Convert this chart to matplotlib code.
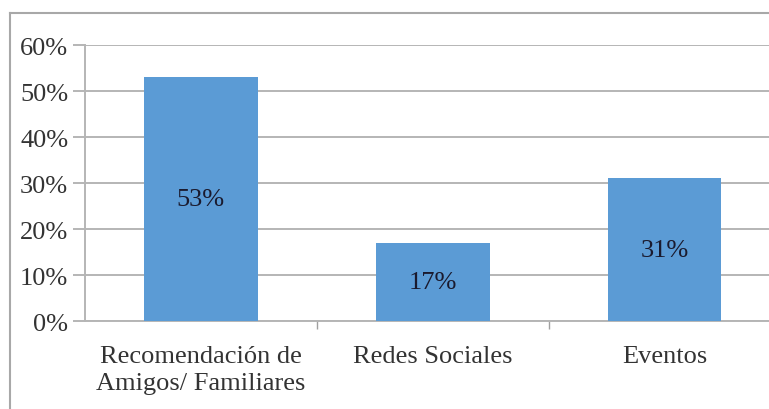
import matplotlib.pyplot as plt
from matplotlib.lines import Line2D
from matplotlib.ticker import FixedLocator, PercentFormatter

# survey results: how people found out about us
categorias = ['Recomendación de\nAmigos/ Familiares', 'Redes Sociales', 'Eventos']
porcentajes = [53, 17, 31]
etiquetas = ['53%', '17%', '31%']
y_ticks = [0, 10, 20, 30, 40, 50, 60]

plt.rcParams['font.family'] = 'serif'
plt.rcParams['font.serif'] = ['Liberation Serif', 'Times New Roman', 'DejaVu Serif']

fig = plt.figure(figsize=(7.69, 4.10), dpi=100)
ax = fig.add_axes([0.1105, 0.2146, 0.8895, 0.6732])

posiciones = range(len(categorias))
barras = ax.bar(posiciones, porcentajes, width=0.49, color='#5B9BD5', zorder=3)

# value labels in the middle of each bar
for barra, texto in zip(barras, etiquetas):
    ax.text(barra.get_x() + barra.get_width() / 2, barra.get_height() / 2, texto,
            ha='center', va='center', fontsize=19, color='#1a1a2e', zorder=4)

ax.set_ylim(0, 60)
ax.set_xlim(-0.5, 2.45)
ax.set_yticks(y_ticks)
ax.yaxis.set_major_formatter(PercentFormatter(decimals=0))
ax.yaxis.grid(True, color='#b5b5b5', linewidth=1.4, zorder=0)

# category labels centred, tick marks on the boundaries between categories
ax.set_xticks(list(posiciones))
ax.set_xticklabels(categorias, fontsize=19, color='#333333', linespacing=1.3)
ax.tick_params(axis='x', length=0, pad=17)
ax.xaxis.set_minor_locator(FixedLocator([0.5, 1.5]))
ax.tick_params(axis='x', which='minor', length=6, color='#a0a0a0', width=1)
ax.tick_params(axis='y', labelsize=19, labelcolor='#333333', length=9,
               color='#b5b5b5', width=1.4, pad=3)

for lado in ['top', 'right']:
    ax.spines[lado].set_visible(False)
ax.spines['left'].set_color('#b5b5b5')
ax.spines['left'].set_linewidth(1.4)
ax.spines['bottom'].set_color('#b5b5b5')
ax.spines['bottom'].set_linewidth(1.4)

# outer frame of the chart area
fig.add_artist(Line2D([0.013, 1.0], [0.967, 0.967], color='#a8a8a8', linewidth=1.5))
fig.add_artist(Line2D([0.013, 0.013], [0.0, 0.967], color='#a8a8a8', linewidth=1.5))

fig.savefig('out.png', dpi=100, facecolor='white')
